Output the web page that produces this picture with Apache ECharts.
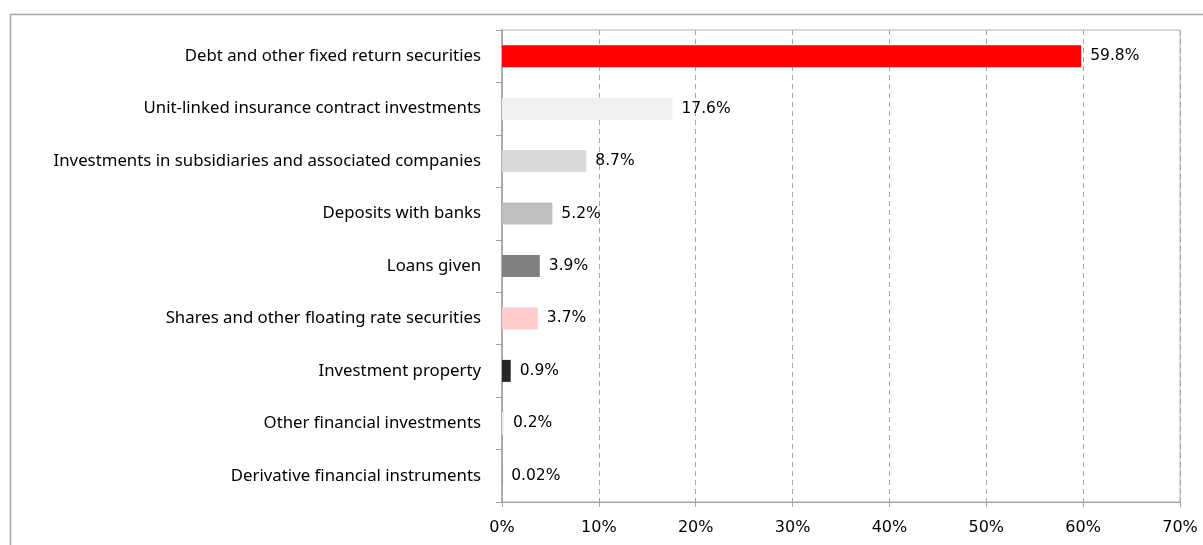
<!DOCTYPE html>
<html>
<head>
<meta charset="utf-8">
<script src="https://cdn.jsdelivr.net/npm/echarts@6/dist/echarts.min.js"></script>
<style>
  html, body { margin: 0; padding: 0; background: #fff; }
  #chart { width: 1203px; height: 545px; }
</style>
</head>
<body>
<div id="chart"></div>
<script>
// Investment portfolio structure, share of total (%)
const categories = [
  'Debt and other fixed return securities',
  'Unit-linked insurance contract investments',
  'Investments in subsidiaries and associated companies',
  'Deposits with banks',
  'Loans given',
  'Shares and other floating rate securities',
  'Investment property',
  'Other financial investments',
  'Derivative financial instruments'
];
const shares = [59.8, 17.6, 8.7, 5.2, 3.9, 3.7, 0.9, 0.2, 0.02];
const barColors = ['#ff0000', '#f0f0f0', '#d9d9d9', '#bfbfbf', '#808080', '#ffcccc', '#262626', '#eeeeee', '#4f81bd'];
const axisTicks = [0, 10, 20, 30, 40, 50, 60, 70];

const labelFont = '"Noto Sans", "Open Sans", sans-serif';
const chart = echarts.init(document.getElementById('chart'), null, { renderer: 'canvas' });

chart.setOption({
  animation: false,
  backgroundColor: '#ffffff',
  graphic: [{
    type: 'rect',
    shape: { x: 10.5, y: 14.5, width: 1300, height: 700 },
    style: { fill: 'none', stroke: '#a6a6a6', lineWidth: 1.5 },
    silent: true,
    z: -1
  }],
  grid: {
    left: 502, right: 23, top: 30, bottom: 43,
    show: true, borderColor: '#b0b0b0', borderWidth: 1, backgroundColor: 'transparent'
  },
  xAxis: {
    type: 'value',
    min: axisTicks[0],
    max: axisTicks[axisTicks.length - 1],
    interval: 10,
    axisLine: { show: true, lineStyle: { color: '#a0a0a0', width: 1 } },
    axisTick: { show: true, length: 5, lineStyle: { color: '#a0a0a0' } },
    splitLine: { show: true, lineStyle: { color: '#a6a6a6', type: [5, 4], width: 1 } },
    axisLabel: {
      margin: 18,
      color: '#000',
      fontSize: 16,
      fontFamily: '"DejaVu Sans", sans-serif',
      formatter: v => v + '%'
    }
  },
  yAxis: {
    type: 'category',
    inverse: true,
    data: categories,
    axisLine: { show: true, lineStyle: { color: '#a0a0a0', width: 1.5 } },
    axisTick: { show: true, length: 6, lineStyle: { color: '#a0a0a0' } },
    axisLabel: { margin: 21, color: '#000', fontSize: 16.8, fontFamily: labelFont }
  },
  series: [{
    type: 'bar',
    data: shares.map((v, i) => ({ value: v, itemStyle: { color: barColors[i] } })),
    barWidth: 22,
    label: {
      show: true,
      position: 'right',
      distance: 9,
      color: '#000',
      fontSize: 15.5,
      fontFamily: '"DejaVu Sans", sans-serif',
      formatter: p => p.value + '%'
    }
  }]
});
</script>
</body>
</html>
